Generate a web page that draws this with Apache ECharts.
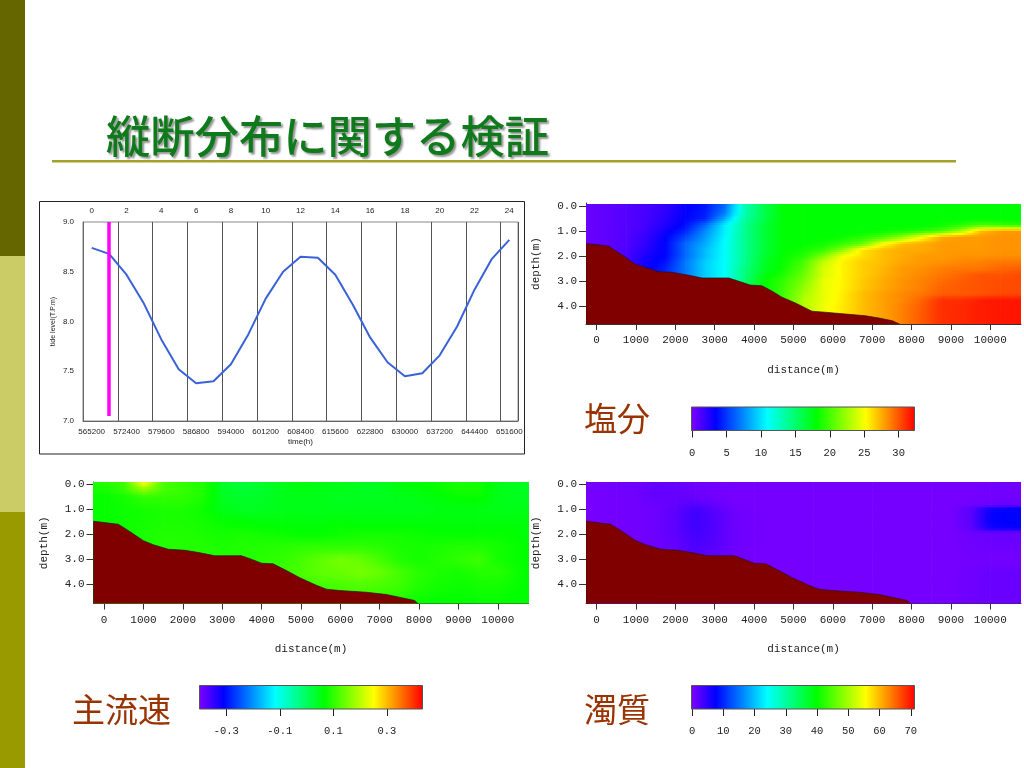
<!DOCTYPE html>
<html><head><meta charset="utf-8">
<style>html,body{margin:0;padding:0;background:#fff}#c{width:1024px;height:768px}</style>
<script src="https://cdn.jsdelivr.net/npm/echarts@6/dist/echarts.min.js"></script>
</head><body><div id="c"></div>
<script>
const titleText = '縦断分布に関する検証';
const hours = ['0','1','2','3','4','5','6','7','8','9','10','11','12','13','14','15','16','17','18','19','20','21','22','23','24'];
const timeLabels = ['565200','568800','572400','576000','579600','583200','586800','590400','594000','597600','601200','604800','608400','612000','615600','619200','622800','626400','630000','633600','637200','640800','644400','648000','651600'];
const tideLevel = [8.74,8.68,8.47,8.18,7.82,7.52,7.38,7.40,7.57,7.87,8.23,8.50,8.65,8.64,8.47,8.17,7.84,7.59,7.45,7.48,7.66,7.95,8.32,8.63,8.82];
const markerHour = '1';
const markerRange = [9.0, 7.05];

const bedDistA = [-270,300,640,980,1320,1580,1915,2340,2680,3360,3610,3900,4200,4460,4710,5050,5470,5810,6320,6830,7170,7510,7720];
const bedDepthA = [1.5,1.6,1.95,2.33,2.5,2.63,2.65,2.77,2.88,2.88,3.01,3.16,3.19,3.41,3.65,3.88,4.21,4.25,4.32,4.39,4.48,4.59,4.74];
const bedDistB = [-270,360,660,1000,1250,1630,2050,2430,2810,3490,3740,4000,4290,4630,4970,5390,5650,5980,6660,7170,7500,7890,7970];
const bedDepthB = [1.47,1.59,1.89,2.25,2.41,2.59,2.63,2.73,2.85,2.85,2.99,3.15,3.17,3.44,3.73,4.03,4.19,4.24,4.31,4.4,4.51,4.64,4.76];

const salX = [-300,250,750,1250,1750,2250,2750,3250,3750,4250,4750,5250,5750,6250,6750,7250,7750,8250,8750,9250,9750,10250,10800];
const salDepth = [-0.1,0.25,0.5,0.75,1,1.25,1.5,1.75,2,2.25,2.5,2.75,3,3.25,3.5,3.75,4,4.25,4.5,4.76];
const salinity = [
[0.5,0.8,1.1,1.5,2,3.3,4,6.5,13,16,18,18,18,18,18,18,18,18,18,18,18,18,18],
[0.5,0.8,1.1,1.5,2.2,3.4,4.2,7,13,16,18,18,18,18,18,18,18,18,18,18,18,18,18],
[0.5,0.8,1.1,1.5,2.4,3.5,4.5,8.5,13.5,16,18,18,18,18,18,18,18,18,18,18,18,18,18],
[0.5,0.8,1.1,1.6,2.6,3.8,6.5,10.5,14,16.5,18,18,18,18,18,18,18,18,18.3,19,20,19.5,19],
[0.5,0.8,1.1,1.8,3,4.5,7.5,10.5,14,16.5,18,18,18,18,18,18.2,18.5,19,20,22.5,27,28,28],
[0.5,0.8,1.2,2,3.4,5.5,8,10.8,14,16.5,18,18,18,18.3,19,20,22,25,27.5,28,28,28.2,28.2],
[0.5,0.8,1.2,2.2,3.6,6.5,8.5,11,14,16.5,18,18,18.5,19.5,21,25,27,27.5,28,28,28,28.2,28.2],
[0.5,0.8,1.3,2.4,3.6,6.5,9,11,14,16.5,18,18.5,19.5,22,26,27,27.5,27.5,28,28,28,28.2,28.2],
[0.5,0.8,1.5,2.8,3.6,6.5,9,11,14,16.7,18.2,19,21.5,25,26,27,27.5,28,28,28.2,28.2,28.3,28.3],
[0.5,0.8,1.5,3,4,7,9.5,11,14,17,18.3,20,23.5,25.5,26.5,27,27.7,28,28.2,28.5,28.7,29,29],
[0.5,0.8,1.5,3,4.5,7,9.5,11,14.5,17,18.5,20.5,24,25.5,26.5,27.2,28,28.3,28.8,29,29,29.5,29.7],
[0.5,0.8,1.5,3,4.5,7,9.5,11,14.5,17.5,19,21,24,25.5,26.5,27.3,28,28.5,29,29.5,30,30,30.2],
[0.5,0.8,1.5,3,4.5,7,9.5,11,15,18,19.5,21.5,24.5,25.5,26.7,27.5,28.2,28.7,29.3,29.7,30,30.2,30.2],
[0.5,0.8,1.5,3,4.5,7,9.5,11,15,18,19.7,22,24.5,25.5,26.7,27.5,28.2,28.7,29.5,29.8,30,30.2,30.2],
[0.5,0.8,1.5,3,4.5,7,9.5,11,15,18,20,22.5,24.5,25.7,27,27.8,28.5,29,29.7,29.8,30,30.3,30.3],
[0.5,0.8,1.5,3,4.5,7,9.5,11,15,18,20,23,24.5,25.7,27,27.8,28.5,29.5,31,31,31.5,31.7,31.7],
[0.5,0.8,1.5,3,4.5,7,9.5,11,15,18,20,23,24.7,25.8,27,27.8,28.7,29.7,31,31.2,31.5,31.7,31.7],
[0.5,0.8,1.5,3,4.5,7,9.5,11,15,18,20,23,24.7,25.8,27,27.8,28.7,29.8,31,31.2,31.5,31.7,31.7],
[0.5,0.8,1.5,3,4.5,7,9.5,11,15,18,20,23,24.7,25.8,27,27.8,28.7,29.8,31,31.2,31.5,31.7,31.7],
[0.5,0.8,1.5,3,4.5,7,9.5,11,15,18,20,23,24.7,25.8,27,27.8,28.7,29.8,31,31.2,31.5,31.7,31.7]
];

const fieldX = [-300,0,500,1000,1500,2000,2500,3000,3500,4000,4500,5000,5500,6000,6500,7000,7500,8000,8500,9000,9500,10000,10500,10800];
const velDepth = [-0.1,0.25,0.5,1,1.5,2,2.5,3,3.5,4,4.76];
const velocity = [
[.09,.09,.11,.25,.12,.10,.09,.04,.025,.035,.05,.06,.055,.05,.045,.045,.06,.065,.075,.085,.08,.05,.045,.045],
[.08,.08,.1,.16,.115,.105,.09,.04,.03,.035,.05,.055,.05,.05,.045,.045,.055,.06,.07,.08,.08,.05,.045,.045],
[.07,.07,.08,.10,.1,.1,.085,.045,.035,.04,.05,.05,.05,.045,.045,.045,.05,.055,.06,.07,.07,.05,.045,.045],
[.07,.07,.075,.08,.085,.085,.075,.05,.045,.045,.05,.05,.05,.05,.05,.05,.05,.05,.055,.055,.055,.05,.05,.05],
[.07,.07,.075,.08,.085,.085,.08,.07,.065,.06,.06,.06,.06,.065,.06,.06,.06,.06,.06,.06,.06,.06,.06,.06],
[.07,.07,.08,.085,.09,.09,.085,.08,.085,.08,.075,.07,.07,.075,.08,.08,.08,.075,.07,.07,.07,.07,.065,.06],
[.07,.07,.08,.085,.09,.09,.09,.085,.09,.09,.095,.1,.1,.1,.1,.095,.085,.08,.085,.09,.09,.08,.07,.065],
[.07,.07,.08,.085,.09,.09,.09,.09,.09,.095,.10,.115,.135,.15,.14,.115,.09,.08,.09,.1,.11,.08,.07,.065],
[.07,.07,.08,.085,.09,.09,.09,.09,.09,.095,.105,.12,.135,.14,.15,.14,.115,.095,.085,.08,.09,.095,.075,.065],
[.07,.07,.08,.085,.09,.09,.09,.09,.09,.095,.105,.11,.115,.12,.125,.12,.11,.09,.08,.075,.08,.08,.07,.065],
[.07,.07,.08,.085,.09,.09,.09,.09,.09,.09,.09,.09,.095,.1,.1,.09,.085,.07,.065,.065,.07,.07,.065,.065]
];
const turDepth = [-0.1,0.25,0.5,0.8,0.95,1.2,1.5,1.75,1.95,2.5,3,3.5,4,4.76];
const turbidity = [
[.5,.5,.6,.9,1.5,1.3,.9,.6,.5,.5,.5,.5,.5,.5,.5,.5,.5,.5,.5,.5,.5,.6,.7,.7],
[.5,.5,.6,.9,1.7,1.5,1,.7,.5,.5,.5,.5,.5,.5,.5,.5,.5,.5,.5,.5,.5,.6,.7,.7],
[.5,.5,.6,.8,1.5,1.5,1.2,.8,.5,.5,.5,.5,.5,.5,.5,.5,.5,.5,.5,.5,.6,.7,.8,.8],
[.5,.5,.6,.8,1.1,1.5,2.5,1.5,.6,.5,.5,.5,.5,.5,.5,.5,.5,.5,.5,.5,.8,1,1.2,1.2],
[.5,.5,.6,.7,1,1.8,3.5,2,.8,.5,.5,.5,.5,.5,.5,.5,.5,.5,.5,.5,2,6.8,7.5,7.5],
[.5,.5,.6,.7,1,2,4,2.5,1,.6,.5,.5,.5,.5,.5,.5,.5,.5,.5,.5,2,7.3,7.8,7.8],
[.5,.5,.6,.7,1,2,4,2.5,1,.6,.5,.5,.5,.5,.5,.5,.5,.5,.5,.5,2,7.3,7.8,7.8],
[.5,.5,.6,.7,1,2,3.8,2.5,1,.6,.5,.5,.5,.5,.5,.5,.5,.5,.5,.5,1.8,6.5,7,7],
[.5,.5,.6,.7,1,2,3.5,2.5,1,.6,.5,.5,.5,.5,.5,.5,.5,.5,.5,.5,.9,1.2,1.3,1.3],
[.5,.5,.6,.7,1,1.5,3,2.2,1,.6,.5,.5,.5,.5,.5,.5,.5,.5,.5,.5,.8,1,1,1],
[.5,.5,.6,.7,1,1.5,2,1.5,.8,.5,.5,.5,.5,.5,.5,.5,.5,.5,.5,.5,.6,.6,.6,.6],
[.5,.5,.6,.7,1,1.5,2,1.5,.8,.5,.5,.5,.5,.5,.5,.5,.5,.5,.5,.5,.9,1.2,1.2,1.2],
[.5,.5,.6,.7,1,1.5,2,1.5,.8,.5,.5,.5,.5,.5,.5,.5,.5,.5,.5,.5,.9,1.2,1.2,1.2],
[.5,.5,.6,.7,1,1.5,2,1.5,.8,.5,.5,.5,.5,.5,.5,.5,.5,.5,.5,.5,.9,1.2,1.2,1.2]
];

const palette = [[0,128,0,255],[0.11,0,0,255],[0.34,0,255,255],[0.56,0,255,0],[0.78,255,255,0],[1,255,0,0]];
const distanceTicks = [0,1000,2000,3000,4000,5000,6000,7000,8000,9000,10000];
const depthTicks = [0,1,2,3,4];
const salRange = [-0.1,32.3], salTicks = [0,5,10,15,20,25,30];
const velRange = [-0.4,0.433], velTicks = [-0.3,-0.1,0.1,0.3];
const turRange = [-0.2,71.2], turTicks = [0,10,20,30,40,50,60,70];

const mono = 'Liberation Mono';
const dark = '#333';
function palColor(t){
  t=Math.max(0,Math.min(1,t));
  for(let i=1;i<palette.length;i++){
    if(t<=palette[i][0]){
      const a=palette[i-1],b=palette[i],f=(t-a[0])/(b[0]-a[0]);
      return 'rgb('+[1,2,3].map(k=>Math.round(a[k]+(b[k]-a[k])*f)).join(',')+')';
    }
  }
  return 'rgb(255,0,0)';
}
function fieldSeries(idx,xs,ds,vals,range){
  const data=[];
  for(let r=0;r<ds.length-1;r++)for(let c=0;c<xs.length-1;c++){
    data.push([xs[c],xs[c+1],ds[r],ds[r+1],vals[r][c],vals[r][c+1],vals[r+1][c],vals[r+1][c+1]]);
  }
  return {type:'custom',xAxisIndex:idx,yAxisIndex:idx,clip:true,silent:true,z:1,progressive:0,
    encode:{x:[0,1],y:[2,3]},data,
    renderItem(p,api){
      const v=i=>api.value(i);
      const a=api.coord([v(0),v(2)]),b=api.coord([v(1),v(3)]);
      const top=Math.round(a[1]),bot=Math.round(b[1]),h=bot-top,n=Math.max(1,Math.round(h/2));
      const children=[];
      for(let i=0;i<n;i++){
        const y0=top+Math.round(h*i/n),y1=top+Math.round(h*(i+1)/n),f=(i+0.5)/n;
        const L=v(4)+(v(6)-v(4))*f,R=v(5)+(v(7)-v(5))*f,stops=[];
        for(let s=0;s<=4;s++){const u=s/4;stops.push({offset:u,color:palColor(((L+(R-L)*u)-range[0])/(range[1]-range[0]))});}
        children.push({type:'rect',shape:{x:a[0],y:y0,width:b[0]-a[0]+0.6,height:y1-y0+0.6},
          style:{fill:new echarts.graphic.LinearGradient(0,0,1,0,stops),stroke:null}});
      }
      return {type:'group',children};
    }};
}
function bedSeries(idx,xs,ds){
  return {type:'custom',xAxisIndex:idx,yAxisIndex:idx,clip:true,silent:true,z:3,
    data:[[xs[0],ds[0]]],encode:{x:0,y:1},
    renderItem(p,api){
      const pts=xs.map((x,i)=>api.coord([x,ds[i]]));
      const last=api.coord([xs[xs.length-1],5]),first=api.coord([xs[0],5]);
      pts.push(last,first);
      return {type:'polygon',shape:{points:pts},style:{fill:'#800000',stroke:'#301010',lineWidth:0.7}};
    }};
}
function barSeries(idx,range){
  return {type:'custom',xAxisIndex:idx,yAxisIndex:idx,silent:true,z:2,data:[[range[0],0]],encode:{x:0,y:1},
    renderItem(p,api){
      const a=api.coord([range[0],1]),b=api.coord([range[1],0]);
      const stops=palette.map(s=>({offset:s[0],color:'rgb('+s[1]+','+s[2]+','+s[3]+')'}));
      return {type:'rect',shape:{x:a[0],y:a[1],width:b[0]-a[0],height:b[1]-a[1]},
        style:{fill:new echarts.graphic.LinearGradient(0,0,1,0,stops),stroke:'#555',lineWidth:1}};
    }};
}
const panels=[
 {left:586,top:203,right:1021,h:121,d0:206,nameGap:41},
 {left:93.5,top:482,right:528.5,h:121.5,d0:484.5,nameGap:40},
 {left:586,top:482,right:1021,h:121.5,d0:484.5,nameGap:40}
];
const grids=[{left:83,top:222,width:435,height:199,show:true,borderColor:'#888',borderWidth:1,backgroundColor:'#fff'}];
const xAxes=[
 {type:'category',gridIndex:0,position:'bottom',data:timeLabels,boundaryGap:true,
  axisLine:{lineStyle:{color:'#666'}},axisTick:{show:false},
  axisLabel:{interval:1,color:'#222',fontSize:8,fontFamily:'Liberation Sans',margin:7,hideOverlap:false},
  splitLine:{show:true,interval:1,lineStyle:{color:'#555',width:1}},
  name:'time(h)',nameLocation:'middle',nameGap:17,nameTextStyle:{fontSize:8,color:'#222',fontFamily:'Liberation Sans'}},
 {type:'category',gridIndex:0,position:'top',data:hours,boundaryGap:true,
  axisLine:{show:false},axisTick:{show:false},splitLine:{show:false},
  axisLabel:{interval:1,color:'#222',fontSize:8,fontFamily:'Liberation Sans',margin:7}}
];
const yAxes=[
 {type:'value',gridIndex:0,min:7,max:9,interval:0.5,position:'left',
  axisLine:{show:true,lineStyle:{color:'#666'}},axisTick:{show:false},splitLine:{show:false},
  axisLabel:{color:'#222',fontSize:8,fontFamily:'Liberation Sans',margin:9,formatter:v=>v.toFixed(1)},
  name:'tide level(T.P.m)',nameLocation:'middle',nameGap:26,nameTextStyle:{fontSize:7,color:'#222',fontFamily:'Liberation Sans'}},
 {type:'value',gridIndex:0,min:7,max:9,interval:0.5,show:false}
];
const series=[
 {type:'line',xAxisIndex:0,yAxisIndex:0,data:tideLevel,symbol:'none',z:3,smooth:false,
  lineStyle:{color:'#3a62d8',width:2},
  markLine:{silent:true,symbol:'none',label:{show:false},animation:false,
   lineStyle:{color:'#ff00ff',width:3.5,type:'solid'},
   data:[[{xAxis:timeLabels[hours.indexOf(markerHour)],yAxis:markerRange[0]},{xAxis:timeLabels[hours.indexOf(markerHour)],yAxis:markerRange[1]}]]}}
];
panels.forEach((p,i)=>{
  const g=grids.length;
  grids.push({left:p.left,top:p.top,width:p.right-p.left,height:p.h});
  xAxes.push({type:'value',gridIndex:g,min:-270,max:10780,
    axisLine:{show:true,onZero:false,lineStyle:{color:dark}},
    axisTick:{show:true,length:6,customValues:distanceTicks,lineStyle:{color:dark}},
    axisLabel:{color:'#222',fontSize:11,fontFamily:mono,margin:11,customValues:distanceTicks,formatter:v=>String(v)},
    splitLine:{show:false},name:'distance(m)',nameLocation:'middle',nameGap:p.nameGap,
    nameTextStyle:{fontSize:11,color:'#222',fontFamily:mono}});
  yAxes.push({type:'value',gridIndex:g,inverse:true,min:-(p.d0-p.top)/25,max:(p.top+p.h-p.d0)/25,
    axisLine:{show:true,onZero:false,lineStyle:{color:dark}},
    axisTick:{show:true,length:7,customValues:depthTicks,lineStyle:{color:dark}},
    axisLabel:{color:'#222',fontSize:11,fontFamily:mono,margin:9,customValues:depthTicks,formatter:v=>v.toFixed(1)},
    splitLine:{show:false},name:'depth(m)',nameLocation:'middle',nameGap:44,
    nameTextStyle:{fontSize:11,color:'#222',fontFamily:mono}});
});
series.push(fieldSeries(2,salX,salDepth,salinity,salRange),bedSeries(2,bedDistA,bedDepthA));
series.push(fieldSeries(3,fieldX,velDepth,velocity,velRange),bedSeries(3,bedDistB,bedDepthB));
series.push(fieldSeries(4,fieldX,turDepth,turbidity,turRange),bedSeries(4,bedDistB,bedDepthB));
[[691.5,407,223,salRange,salTicks,v=>String(v)],
 [199.5,685.5,223,velRange,velTicks,v=>v.toFixed(1)],
 [691.5,685.5,223,turRange,turTicks,v=>String(v)]].forEach(b=>{
  const axisIdx=xAxes.length;
  const g=grids.length;
  grids.push({left:b[0],top:b[1],width:b[2],height:23.5});
  xAxes.push({type:'value',gridIndex:g,min:b[3][0],max:b[3][1],
    axisLine:{show:false,onZero:false},
    axisTick:{show:true,length:7,customValues:b[4],lineStyle:{color:'#222'}},
    axisLabel:{color:'#222',fontSize:10.5,fontFamily:mono,margin:17,customValues:b[4],formatter:b[5]},
    splitLine:{show:false}});
  yAxes.push({type:'value',gridIndex:g,min:0,max:1,show:false});
  series.push(barSeries(axisIdx,b[3]));
});
const labelStyle={fontFamily:'Noto Sans CJK JP',fontSize:33,fontWeight:400,color:'#993300'};
const chart=echarts.init(document.getElementById('c'),null,{renderer:'canvas'});
chart.setOption({
  animation:false,backgroundColor:'#fff',
  title:[
   {text:titleText,left:106,top:114,padding:0,textStyle:{fontFamily:'Noto Sans CJK JP',fontSize:44.3,fontWeight:500,color:'#0f7a1c',textShadowColor:'rgba(60,60,60,0.55)',textShadowBlur:2,textShadowOffsetX:2,textShadowOffsetY:2}},
   {text:'塩分',left:584,top:402,padding:0,textStyle:labelStyle},
   {text:'主流速',left:72,top:693,padding:0,textStyle:labelStyle},
   {text:'濁質',left:584,top:693,padding:0,textStyle:labelStyle}
  ],
  graphic:[
   {type:'rect',silent:true,shape:{x:0,y:0,width:25,height:256},style:{fill:'#666600'}},
   {type:'rect',silent:true,shape:{x:0,y:256,width:25,height:256},style:{fill:'#cccc66'}},
   {type:'rect',silent:true,shape:{x:0,y:512,width:25,height:256},style:{fill:'#999900'}},
   {type:'rect',silent:true,shape:{x:52,y:160,width:904,height:2.5},style:{fill:'#a3a32a'}},
   {type:'rect',silent:true,z:-1,shape:{x:39.5,y:201.5,width:485,height:252.5},style:{fill:'none',stroke:'#222',lineWidth:1}}
  ],
  grid:grids,xAxis:xAxes,yAxis:yAxes,series
});
</script></body></html>
